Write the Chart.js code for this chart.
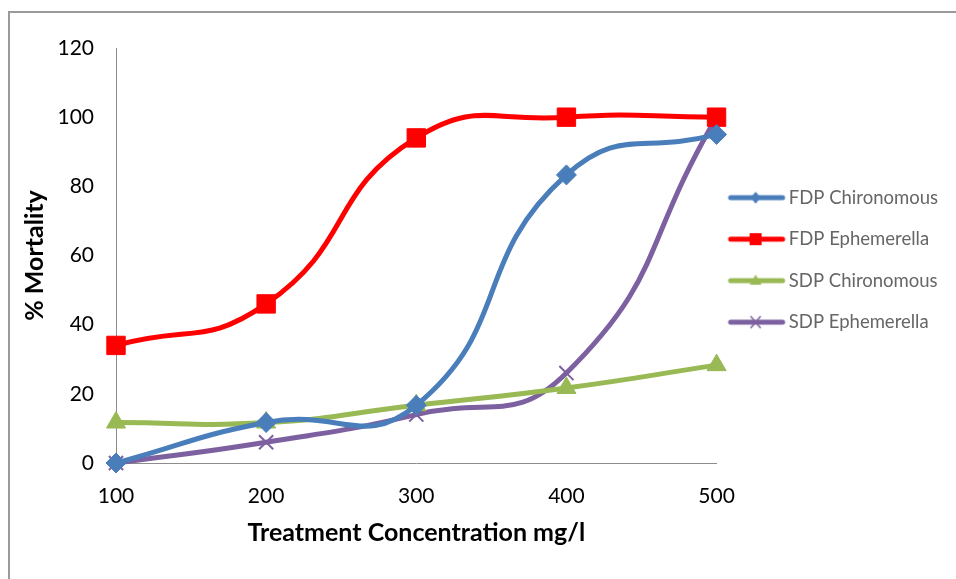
<!DOCTYPE html>
<html>
<head>
<meta charset="utf-8">
<script src="https://cdn.jsdelivr.net/npm/chart.js@4.4.1/dist/chart.umd.min.js"></script>
<style>
  html, body { margin: 0; padding: 0; background: #fff; }
  #wrap { position: relative; width: 956px; height: 579px; overflow: hidden; }
  #frame { position: absolute; left: 8px; top: 11px; width: 1000px; height: 700px;
           border-left: 2px solid #9a9a9a; border-top: 2px solid #9a9a9a; }
  #mortality { position: absolute; left: 0; top: 0; }
</style>
</head>
<body>
<div id="wrap">
  <div id="frame"></div>
  <canvas id="mortality" width="956" height="579"></canvas>
</div>
<script>
// Mortality vs treatment concentration (mg/l)
const concentrations = [100, 200, 300, 400, 500];
const fdpChironomous = [0, 11.7, 16.7, 83.3, 95];
const fdpEphemerella = [34, 46, 94, 100, 100];
const sdpChironomous = [11.7, 11.7, 16.7, 21.7, 28.3];
const sdpEphemerella = [0, 6, 14, 26, 100];

const FONT = 'Lato, "Open Sans", sans-serif';

// line+marker swatch for the legend; the canvas is wider than the line so the
// line sits a little left of the legend box centre
function legendSwatch(color, style) {
  const c = document.createElement('canvas');
  c.width = 70; c.height = 16;
  const g = c.getContext('2d');
  g.strokeStyle = color;
  g.lineWidth = 5;
  g.lineCap = 'round';
  g.beginPath(); g.moveTo(6, 8); g.lineTo(58, 8); g.stroke();
  g.fillStyle = color;
  const cx = 31, cy = 8;
  g.beginPath();
  if (style === 'rectRot') {
    g.moveTo(cx, cy - 6); g.lineTo(cx + 5, cy); g.lineTo(cx, cy + 6); g.lineTo(cx - 5, cy); g.closePath(); g.fill();
  } else if (style === 'rect') {
    g.fillRect(cx - 6, cy - 6, 12, 12);
  } else if (style === 'triangle') {
    g.moveTo(cx, cy - 6); g.lineTo(cx + 6, cy + 4); g.lineTo(cx - 6, cy + 4); g.closePath(); g.fill();
  } else {
    g.lineWidth = 1.5; g.lineCap = 'butt';
    g.moveTo(cx - 5, cy - 6); g.lineTo(cx + 5, cy + 6);
    g.moveTo(cx + 5, cy - 6); g.lineTo(cx - 5, cy + 6); g.stroke();
  }
  return c;
}

const seriesDefs = [
  { label: 'FDP Chironomous', data: fdpChironomous, color: '#4a7ebb', style: 'rectRot', radius: 10 },
  { label: 'FDP Ephemerella', data: fdpEphemerella, color: '#ff0000', style: 'rect', radius: 13 },
  { label: 'SDP Chironomous', data: sdpChironomous, color: '#98b954', style: 'triangle', radius: 11 },
  { label: 'SDP Ephemerella', data: sdpEphemerella, color: '#7d60a0', style: 'crossRot', radius: 10 }
];

const datasets = seriesDefs.map(s => ({
  label: s.label,
  data: s.data.map((v, i) => ({ x: concentrations[i], y: v })),
  borderColor: s.color,
  backgroundColor: s.color,
  borderWidth: 5,
  tension: 0.5,
  pointStyle: s.style,
  pointRadius: s.radius,
  pointHoverRadius: s.radius,
  pointBorderWidth: s.style === 'crossRot' ? 2 : 1,
  pointBorderColor: s.color,
  pointBackgroundColor: s.color,
  clip: false,
  swatch: legendSwatch(s.color, s.style)
}));

new Chart(document.getElementById('mortality'), {
  type: 'line',
  data: { datasets },
  options: {
    responsive: false,
    animation: false,
    layout: { padding: { left: 10, top: 48, right: 8, bottom: 0 } },
    plugins: {
      tooltip: { enabled: false },
      legend: {
        position: 'right',
        align: 'start',
        // empty title only used to push the entries down
        title: { display: true, text: '', font: { size: 12 }, padding: { top: 103, bottom: 0 } },
        labels: {
          usePointStyle: true,
          pointStyleWidth: 40,
          padding: 23,
          color: '#000',
          font: { family: FONT, size: 18.5 },
          generateLabels: (chart) => chart.data.datasets.map((ds, i) => ({
            text: ds.label,
            pointStyle: ds.swatch,
            fillStyle: ds.borderColor,
            strokeStyle: ds.borderColor,
            lineWidth: 0,
            hidden: false,
            datasetIndex: i
          }))
        }
      }
    },
    scales: {
      x: {
        type: 'linear',
        min: 100,
        max: 500,
        afterFit: (scale) => { scale.height = 579 - 463; },
        grid: { display: false, drawTicks: false },
        border: { display: true, color: '#8c8c8c', width: 1 },
        ticks: { stepSize: 100, padding: 21, color: '#000', font: { family: FONT, size: 21 } },
        title: {
          display: true,
          text: 'Treatment Concentration mg/l',
          color: '#000',
          font: { family: FONT, size: 25, weight: 'bold' },
          padding: { top: 0, bottom: 31 }
        }
      },
      y: {
        min: 0,
        max: 120,
        afterFit: (scale) => { scale.width = 116 - 10; },
        grid: { display: false, drawTicks: false },
        border: { display: true, color: '#8c8c8c', width: 1 },
        ticks: { stepSize: 20, padding: 22, color: '#000', font: { family: FONT, size: 21 } },
        title: {
          display: true,
          text: '% Mortality',
          color: '#000',
          font: { family: FONT, size: 25, weight: 'bold' },
          padding: { top: 10, bottom: 0 }
        }
      }
    }
  }
});
</script>
</body>
</html>
